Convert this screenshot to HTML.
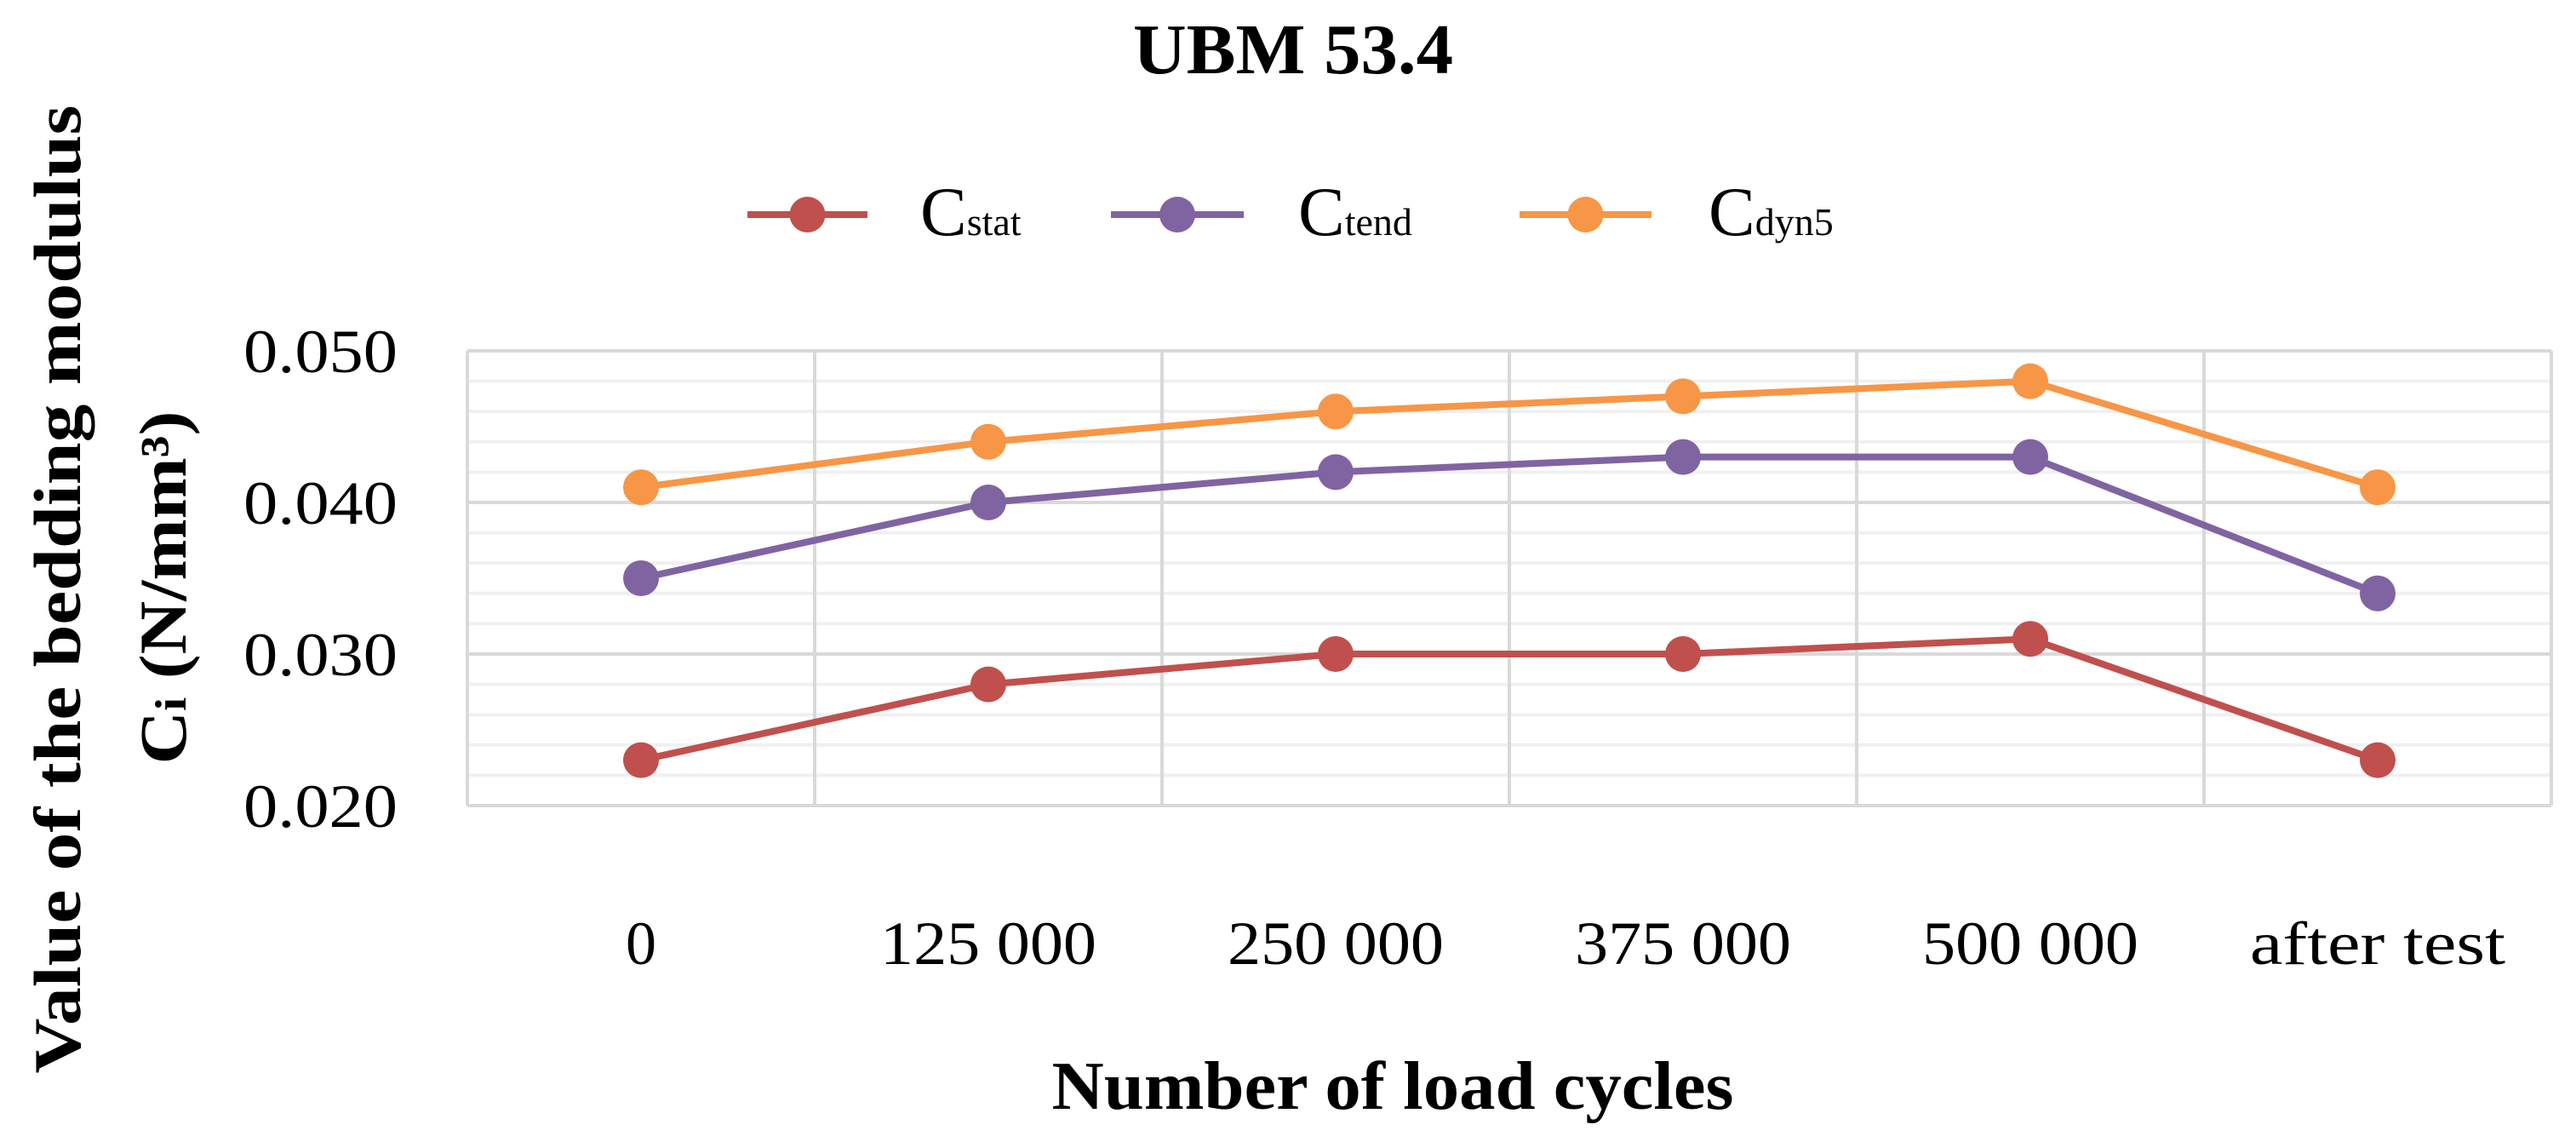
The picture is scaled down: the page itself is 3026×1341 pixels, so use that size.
<!DOCTYPE html>
<html><head><meta charset="utf-8"><style>
html,body{margin:0;padding:0;background:#fff;}
svg{display:block;font-family:"Liberation Serif",serif;}
</style></head><body>
<svg id="chart" width="3026" height="1341" viewBox="0 0 3026 1341" xmlns="http://www.w3.org/2000/svg">
<text x="1519" y="86" text-anchor="middle" font-size="84" font-weight="bold" textLength="376" lengthAdjust="spacingAndGlyphs">UBM 53.4</text>
<g id="legend"></g>
<g id="grid"></g>
<g id="series"></g>
<g id="yticks"></g>
<g id="xticks"></g>
<text x="1636" y="1302" text-anchor="middle" font-size="80" font-weight="bold" textLength="801" lengthAdjust="spacingAndGlyphs">Number of load cycles</text>
<text transform="translate(94,692) rotate(-90)" text-anchor="middle" font-size="78" font-weight="bold" textLength="1137" lengthAdjust="spacingAndGlyphs">Value of the bedding modulus</text>
<text transform="translate(218,690) rotate(-90)" text-anchor="middle" font-size="78" font-weight="bold" textLength="415" lengthAdjust="spacingAndGlyphs">C<tspan font-size="52">i</tspan> (N/mm³)</text>
</svg>
<script>
const categories = ["0","125 000","250 000","375 000","500 000","after test"];
const cstat = [0.023,0.028,0.030,0.030,0.031,0.023];
const ctend = [0.035,0.040,0.042,0.043,0.043,0.034];
const cdyn5 = [0.041,0.044,0.046,0.047,0.048,0.041];
const yTicks = [0.020,0.030,0.040,0.050];
const yTickLabels = ["0.020","0.030","0.040","0.050"];

const NS="http://www.w3.org/2000/svg";
const L=549,R=2997,T=412,B=946,yMin=0.020,yMax=0.050;
const bw=(R-L)/categories.length;
const xS=i=>L+bw*(i+0.5);
const yS=v=>B-(v-yMin)/(yMax-yMin)*(B-T);
function mk(tag,attrs,parent){const e=document.createElementNS(NS,tag);for(const k in attrs)e.setAttribute(k,attrs[k]);parent.appendChild(e);return e;}
const grid=document.getElementById('grid');
for(let k=0;k<=15;k++){
  const v=yMin+k*0.002;
  if(k%5===0) continue;
  const g=mk('line',{x1:L,x2:R,y1:yS(v),y2:yS(v),stroke:'#f0f0f0','stroke-width':4},grid);
  
  
}
yTicks.forEach(v=>{
  const g=mk('line',{x1:L,x2:R,y1:yS(v),y2:yS(v),stroke:'#d9d9d9','stroke-width':4},grid);
  
  
});
for(let i=0;i<=categories.length;i++){
  const g=mk('line',{x1:L+bw*i,x2:L+bw*i,y1:T,y2:B,stroke:'#d9d9d9','stroke-width':4},grid);
  
  
}
const yt=document.getElementById('yticks');
yTicks.forEach((v,i)=>{
  const t=mk('text',{x:467,y:yS(v)+25,'text-anchor':'end','font-size':72,textLength:181,lengthAdjust:'spacingAndGlyphs'},yt);
  t.textContent=yTickLabels[i];
  
  
});
const xt=document.getElementById('xticks');
categories.forEach((c,i)=>{
  const a={x:xS(i),y:1132,'text-anchor':'middle','font-size':72};
  if(c.length>1){a.textLength=(c==="after test")?300:254;a.lengthAdjust='spacingAndGlyphs';}
  const t=mk('text',a,xt);
  t.textContent=c;
  
  
});
const sg=document.getElementById('series');
const S=[["cstat",cstat,"#C0504D"],["ctend",ctend,"#8064A2"],["cdyn5",cdyn5,"#F79646"]];
S.forEach(([n,d,col])=>{
  const p=mk('polyline',{points:d.map((v,i)=>xS(i)+','+yS(v)).join(' '),fill:'none',stroke:col,'stroke-width':8,'stroke-linejoin':'round'},sg);
  
  
  d.forEach((v,i)=>{
    const c=mk('circle',{cx:xS(i),cy:yS(v),r:21,fill:col},sg);
    
    
  });
});
const lg=document.getElementById('legend');
const LE=[["stat","#C0504D",878,1019,1081,100],["tend","#8064A2",1305,1461,1525,108],["dyn5","#F79646",1785,1940,2007,112]];
LE.forEach(([s,col,x1,x2,tx,tw])=>{
  const g=mk('g',{},lg);
  
  
  mk('line',{x1:x1,x2:x2,y1:252,y2:252,stroke:col,'stroke-width':8},g);
  mk('circle',{cx:(x1+x2)/2,cy:252,r:21,fill:col},g);
  const t=mk('text',{x:tx,y:276,'font-size':82},g);
  t.innerHTML='C<tspan font-size="46">'+s+'</tspan>';
});
</script>
</body></html>
